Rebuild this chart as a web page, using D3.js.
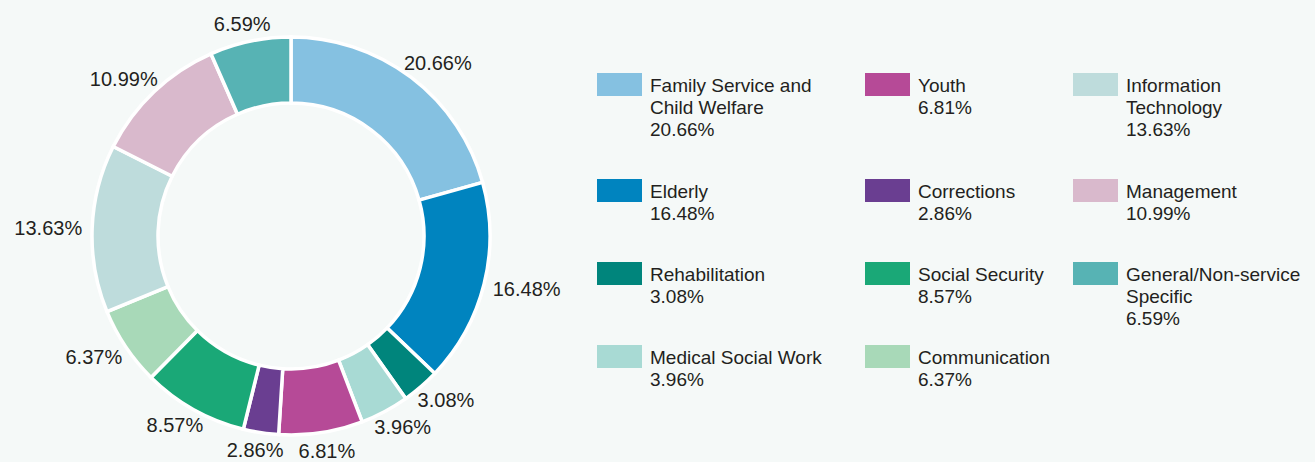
<!DOCTYPE html>
<html>
<head>
<meta charset="utf-8">
<script src="https://cdn.jsdelivr.net/npm/d3@7"></script>
<style>
  body { margin: 0; background: #f5f9f8; }
  svg { display: block; font-family: "Liberation Sans", Arial, sans-serif; }
</style>
</head>
<body>
<div id="chart"></div>
<script>
// Dades del gràfic
const categories = [
  "Family Service and Child Welfare", "Elderly", "Rehabilitation", "Medical Social Work",
  "Youth", "Corrections", "Social Security", "Communication",
  "Information Technology", "Management", "General/Non-service Specific"
];
const values = [20.66, 16.48, 3.08, 3.96, 6.81, 2.86, 8.57, 6.37, 13.63, 10.99, 6.59];
const colors = [
  "#85c1e1", "#0084bf", "#00857c", "#a8dad4",
  "#b64a97", "#6a3e91", "#1aa877", "#a8d9b8",
  "#bedcdc", "#d9b9cc", "#57b3b4"
];
// Legend lines (label split as in the picture) and legend order
const legendLines = {
  "Family Service and Child Welfare": ["Family Service and", "Child Welfare"],
  "Information Technology": ["Information", "Technology"],
  "General/Non-service Specific": ["General/Non-service", "Specific"]
};
const legendColumns = [
  ["Family Service and Child Welfare", "Elderly", "Rehabilitation", "Medical Social Work"],
  ["Youth", "Corrections", "Social Security", "Communication"],
  ["Information Technology", "Management", "General/Non-service Specific"]
];

const W = 1315, H = 462;
const cx = 291, cy = 236, outerR = 199, innerR = 133;
const textColor = "#231f20";

const svg = d3.select("#chart").append("svg")
  .attr("width", W).attr("height", H);

const data = categories.map((c, i) => ({ name: c, value: values[i], color: colors[i] }));
const fmt = v => v.toFixed(2) + "%";

const pie = d3.pie().sort(null).value(d => d.value);
const arc = d3.arc().innerRadius(innerR).outerRadius(outerR);
const arcs = pie(data);

const g = svg.append("g").attr("transform", `translate(${cx},${cy})`);

g.selectAll("path")
  .data(arcs)
  .enter()
  .append("path")
  .attr("d", arc)
  .attr("fill", d => d.data.color)
  .attr("stroke", "#ffffff")
  .attr("stroke-width", 3.5);

// Etiquetes exteriors: la caixa del text toca un cercle una mica fora del donut
const labels = g.selectAll("text.lbl")
  .data(arcs)
  .enter()
  .append("text")
  .attr("class", "lbl")
  .attr("font-size", "20px")
  .attr("fill", textColor)
  .attr("text-anchor", "middle")
  .attr("dominant-baseline", "central")
  .text(d => fmt(d.data.value));

labels.each(function(d) {
  const w = this.getComputedTextLength();
  const h = 16;
  const a = (d.startAngle + d.endAngle) / 2;
  const s = Math.sin(a), c = Math.cos(a);
  const r = outerR + 10;
  d3.select(this)
    .attr("x", r * s + s * w / 2)
    .attr("y", -r * c - c * h / 2);
});

// Llegenda
const colX = [597, 865, 1073];
const legendTop = 73, lineH = 22, swW = 45, swH = 23;
const byName = new Map(data.map(d => [d.name, d]));

// alçada de cada fila segons la primera columna
const rowTops = [];
let yy = legendTop;
legendColumns[0].forEach(n => {
  rowTops.push(yy);
  const lines = (legendLines[n] || [n]).length + 1;
  yy += lines * lineH + (lines > 2 ? 40 : 39);
});

legendColumns.forEach((col, ci) => {
  col.forEach((name, ri) => {
    const d = byName.get(name);
    const lg = svg.append("g")
      .attr("transform", `translate(${colX[ci]},${rowTops[ri]})`);
    lg.append("rect")
      .attr("width", swW).attr("height", swH)
      .attr("fill", d.color);
    const lines = (legendLines[name] || [name]).concat([fmt(d.value)]);
    lg.selectAll("text")
      .data(lines)
      .enter()
      .append("text")
      .attr("x", 53)
      .attr("y", (t, i) => 19 + i * lineH)
      .attr("font-size", "19px")
      .attr("fill", textColor)
      .text(t => t);
  });
});
</script>
</body>
</html>
